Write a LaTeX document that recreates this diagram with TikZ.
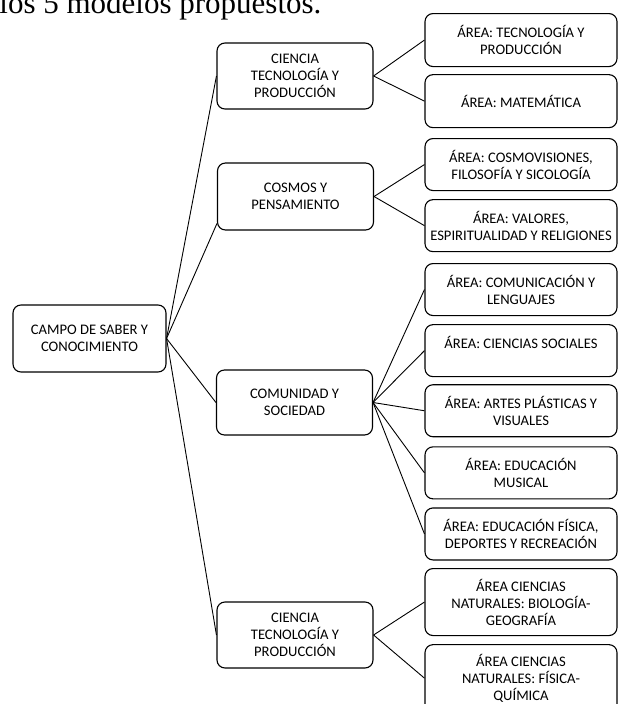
\documentclass[tikz,border=0pt]{standalone}
\usepackage{fontspec}
\setmainfont{Carlito}
\newfontfamily\bodyserif{Liberation Serif}
\usetikzlibrary{positioning}

\begin{document}
\begin{tikzpicture}[
  x=1pt,y=-1pt,
  node distance=8pt,
  n/.style={draw=black,rounded corners=8pt,line width=1.1pt,fill=white,
    align=center,inner sep=2pt,font=\fontsize{14.6}{17}\selectfont},
  campo/.style={n,minimum width=153pt,minimum height=67pt},
  mid/.style={n,minimum width=156pt,minimum height=66pt},
  area/.style={n,minimum width=192pt,minimum height=52pt},
  a/.style={line width=0.9pt,color=black}
]
  \useasboundingbox (0,0) rectangle (619,704);
  \node[anchor=base east,font=\bodyserif\fontsize{31}{31}\selectfont] (intro)
    at (325,13.5) {los 5 modelos propuestos.};
  % tronco
  \node[campo] (campo) at (89.5,338.5) {CAMPO DE SABER Y\\CONOCIMIENTO};
  % campos
  \node[mid] (ctp) at (295,76) {CIENCIA\\TECNOLOGÍA Y\\PRODUCCIÓN};
  \node[mid,minimum height=67pt] (cosmos) at (295.5,196.5) {COSMOS Y\\PENSAMIENTO};
  \node[mid,minimum height=65pt] (comu) at (294.5,402.5) {COMUNIDAD Y\\SOCIEDAD};
  \node[mid] (ctpb) at (295,635) {CIENCIA\\TECNOLOGÍA Y\\PRODUCCIÓN};
  % areas
  \node[area,anchor=north,minimum height=53pt] (tec) at (521,13)
    {ÁREA: TECNOLOGÍA Y\\PRODUCCIÓN};
  \node[area,minimum height=53pt,below=7pt of tec] (mat) {ÁREA: MATEMÁTICA};
  \node[area,anchor=north] (cosmov) at (521,138)
    {ÁREA: COSMOVISIONES,\\FILOSOFÍA Y SICOLOGÍA};
  \node[area,below=of cosmov] (valores)
    {ÁREA: VALORES,\\ESPIRITUALIDAD Y RELIGIONES};
  \node[area,anchor=north] (comunic) at (521,263)
    {ÁREA: COMUNICACIÓN Y\\LENGUAJES};
  \node[area,below=of comunic] (sociales) {ÁREA: CIENCIAS SOCIALES\\\mbox{}};
  \node[area,below=7pt of sociales] (artes) {ÁREA: ARTES PLÁSTICAS Y\\VISUALES};
  \node[area,below=9pt of artes] (musica) {ÁREA: EDUCACIÓN\\MUSICAL};
  \node[area,below=of musica] (fisica)
    {ÁREA: EDUCACIÓN FÍSICA,\\DEPORTES Y RECREACIÓN};
  \node[area,anchor=north,minimum height=67pt] (biogeo) at (521,568)
    {ÁREA CIENCIAS\\NATURALES: BIOLOGÍA-\\GEOGRAFÍA};
  \node[area,minimum height=67pt,below=of biogeo] (fisqui)
    {ÁREA CIENCIAS\\NATURALES: FÍSICA-\\QUÍMICA};
  \draw[a] (campo.east) -- (ctp.west);
  \draw[a] (campo.east) -- ([yshift=-27pt]cosmos.west);
  \draw[a] (campo.east) -- (comu.west);
  \draw[a] (campo.east) -- (ctpb.west);
  \draw[a] (ctp.east) -- (tec.west);
  \draw[a] (ctp.east) -- (mat.west);
  \draw[a] (cosmos.east) -- (cosmov.west);
  \draw[a] (cosmos.east) -- (valores.west);
  \draw[a] (comu.east) -- (comunic.west);
  \draw[a] (comu.east) -- (sociales.west);
  \draw[a] (comu.east) -- (artes.west);
  \draw[a] (comu.east) -- (musica.west);
  \draw[a] (comu.east) -- (fisica.west);
  \draw[a] (ctpb.east) -- (biogeo.west);
  \draw[a] (ctpb.east) -- (fisqui.west);
\end{tikzpicture}
\end{document}
